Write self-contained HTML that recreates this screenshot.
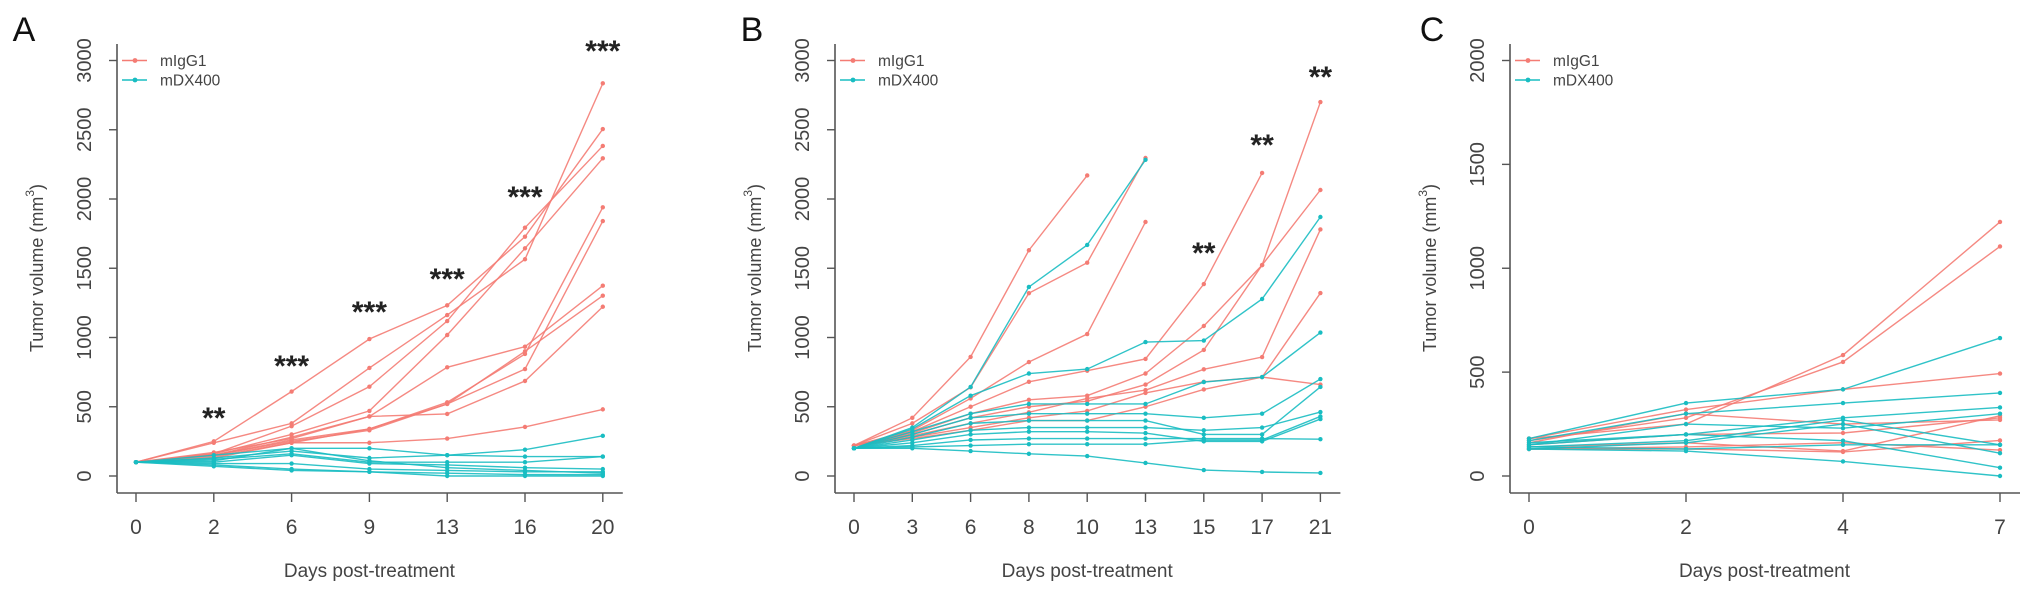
<!DOCTYPE html>
<html><head><meta charset="utf-8"><style>
html,body{margin:0;padding:0;background:#fff;}
svg{display:block;font-family:"Liberation Sans",Arial,sans-serif;}
</style></head><body>
<svg id="chart" width="2031" height="601" viewBox="0 0 2031 601" xmlns="http://www.w3.org/2000/svg"></svg>
<script>
// ---------- Panel A data ----------
const aDays = ["0","2","6","9","13","16","20"];
const aIgG = [
 [100,250,610,989,1232,1728,2505],
 [100,240,380,780,1162,1565,2835],
 [100,160,360,645,1119,1793,2383],
 [100,160,300,470,1018,1644,2294],
 [100,150,280,430,785,934,1374],
 [100,150,260,340,532,881,1940],
 [100,140,240,340,520,772,1841],
 [100,170,270,430,448,686,1222],
 [100,130,240,240,270,354,481],
 [100,150,250,330,520,900,1302]
];
const aDX = [
 [100,150,200,200,150,190,290],
 [100,130,180,130,150,140,140],
 [100,120,160,100,100,100,140],
 [100,100,150,90,80,60,50],
 [100,90,90,50,40,30,30],
 [100,80,50,30,20,10,10],
 [100,70,40,30,0,0,0],
 [100,110,200,110,60,40,20]
];
const aStarIdx = [1,2,3,4,5,6];
const aStarVal = [448,823,1213,1451,2043,3097];
const aStarTxt = ["**","***","***","***","***","***"];
const abTicks = [0,500,1000,1500,2000,2500,3000];

// ---------- Panel B data ----------
const bDays = ["0","3","6","8","10","13","15","17","21"];
const bIgG = [
 [220,420,860,1630,2170],
 [220,380,640,1320,1540,2296],
 [220,330,560,823,1025,1834],
 [220,320,500,680,760,845,1386,2188],
 [220,310,450,550,580,740,1083,1523,2700],
 [220,300,420,500,540,660,910,1523,2065],
 [220,290,380,460,560,620,770,859,1780],
 [220,280,350,420,470,600,680,714,1321],
 [220,270,330,400,400,500,625,714,660]
];
const bDX = [
 [200,350,643,1365,1668,2283],
 [200,340,580,740,772,967,978,1278,1870],
 [200,320,450,520,520,520,678,714,1036],
 [200,300,420,450,450,450,420,450,700],
 [200,280,380,400,400,400,300,300,643],
 [200,260,330,350,350,350,330,350,462],
 [200,240,300,320,320,310,250,250,411],
 [200,220,260,270,270,270,270,270,266],
 [200,210,220,230,230,230,260,260,430],
 [200,200,180,160,144,94,43,29,22]
];
const bStarIdx = [6,7,8];
const bStarVal = [1640,2419,2910];
const bStarTxt = ["**","**","**"];

// ---------- Panel C data ----------
const cDays = ["0","2","4","7"];
const cIgG = [
 [180,250,582,1223],
 [170,280,549,1105],
 [180,320,417,493],
 [160,300,250,270],
 [150,200,207,280],
 [140,160,120,290],
 [130,130,116,171],
 [130,140,160,125]
];
const cDX = [
 [180,351,417,664],
 [170,300,351,400],
 [160,200,280,330],
 [150,250,230,300],
 [140,170,270,150],
 [130,160,250,110],
 [130,120,70,0],
 [150,200,170,40],
 [140,130,150,150]
];
const cTicks = [0,500,1000,1500,2000];

const RED = "#F47C74", TEAL = "#19BDC2";
const svg = document.getElementById('chart');
const NS = "http://www.w3.org/2000/svg";
function mk(tag, attrs, parent){
  const e = document.createElementNS(NS, tag);
  for (const k in attrs) e.setAttribute(k, attrs[k]);
  (parent||svg).appendChild(e);
  return e;
}

function panel(cfg){
  const g = mk('g', {});
  
  
  const y0 = 476, yT = 60.5;
  const xs = i => cfg.x0 + i * cfg.step;
  const ys = v => y0 - v / cfg.ymax * (y0 - yT);
  const lastX = xs(cfg.days.length - 1);
  const axc = "#555";
  // axes
  const ya = mk('line', {x1:cfg.x0-19, y1:44, x2:cfg.x0-19, y2:493, stroke:axc, 'stroke-width':1.6}, g);
  
  
  const xa = mk('line', {x1:cfg.x0-19, y1:493, x2:lastX+20, y2:493, stroke:axc, 'stroke-width':1.6}, g);
  
  
  // y ticks
  cfg.ticks.forEach(t => {
    const y = ys(t);
    const tl = mk('line', {x1:cfg.x0-27, y1:y, x2:cfg.x0-19, y2:y, stroke:axc, 'stroke-width':1.4}, g);
    
    
    const tx = mk('text', {x:0, y:0, 'font-size':20, fill:'#444', 'text-anchor':'middle', 'dominant-baseline':'central',
      transform:`translate(${cfg.x0-51},${y}) rotate(-90)`}, g);
    tx.textContent = t;
    
    
  });
  // x ticks
  cfg.days.forEach((d, i) => {
    const x = xs(i);
    const tl = mk('line', {x1:x, y1:493, x2:x, y2:502, stroke:axc, 'stroke-width':1.4}, g);
    
    
    const tx = mk('text', {x:x, y:534, 'font-size':21, fill:'#444', 'text-anchor':'middle'}, g);
    tx.textContent = d;
    
    
  });
  // axis titles
  const xt = mk('text', {x:(cfg.x0+lastX)/2, y:577, 'font-size':19, fill:'#444', 'text-anchor':'middle'}, g);
  xt.textContent = "Days post-treatment";
  
  
  const yt = mk('text', {x:0, y:0, 'font-size':18, fill:'#444', 'text-anchor':'middle', 'dominant-baseline':'central',
    transform:`translate(${cfg.x0-99},268) rotate(-90)`}, g);
  yt.innerHTML = 'Tumor volume (mm<tspan dy="-7" font-size="12">3</tspan><tspan dy="7">)</tspan>';
  
  
  // panel letter
  const pl = mk('text', {x:cfg.letterX, y:41, 'font-size':34, fill:'#111', 'text-anchor':'middle'}, g);
  pl.textContent = cfg.letter;
  
  
  // series
  function drawSeries(arr, color, name){
    arr.forEach(vals => {
      const pts = vals.map((v, i) => xs(i) + "," + ys(v)).join(" ");
      const pl2 = mk('polyline', {points:pts, fill:'none', stroke:color, 'stroke-width':1.4, 'stroke-opacity':0.9}, g);
      
      
      vals.forEach((v, i) => {
        const c = mk('circle', {cx:xs(i), cy:ys(v), r:2.2, fill:color}, g);
        
        
      });
    });
  }
  drawSeries(cfg.red, RED, 'migg1');
  drawSeries(cfg.teal, TEAL, 'mdx400');
  // stars
  cfg.starIdx.forEach((idx, k) => {
    const st = mk('text', {x:xs(idx), y:ys(cfg.starVal[k]) + 14, 'font-size':30, 'font-weight':'bold', fill:'#222', 'text-anchor':'middle'}, g);
    st.textContent = cfg.starTxt[k];
    
    
  });
  // legend
  [["mIgG1", RED, 60.5], ["mDX400", TEAL, 80]].forEach(([lab, col, y]) => {
    const lg = mk('g', {}, g);
    
    
    mk('line', {x1:cfg.x0-14, y1:y, x2:cfg.x0+11, y2:y, stroke:col, 'stroke-width':1.4}, lg);
    mk('circle', {cx:cfg.x0-1, cy:y, r:2.4, fill:col}, lg);
    const t = mk('text', {x:cfg.x0+24, y:y+5.5, 'font-size':15.5, fill:'#444'}, lg);
    t.textContent = lab;
  });
}

panel({letter:"A", letterX:24, x0:136, step:77.8, ymax:3000, ticks:abTicks, days:aDays, red:aIgG, teal:aDX, starIdx:aStarIdx, starVal:aStarVal, starTxt:aStarTxt});
panel({letter:"B", letterX:752, x0:854, step:58.3, ymax:3000, ticks:abTicks, days:bDays, red:bIgG, teal:bDX, starIdx:bStarIdx, starVal:bStarVal, starTxt:bStarTxt});
panel({letter:"C", letterX:1432, x0:1529, step:157, ymax:2000, ticks:cTicks, days:cDays, red:cIgG, teal:cDX, starIdx:[], starVal:[], starTxt:[]});
</script>
</body></html>
